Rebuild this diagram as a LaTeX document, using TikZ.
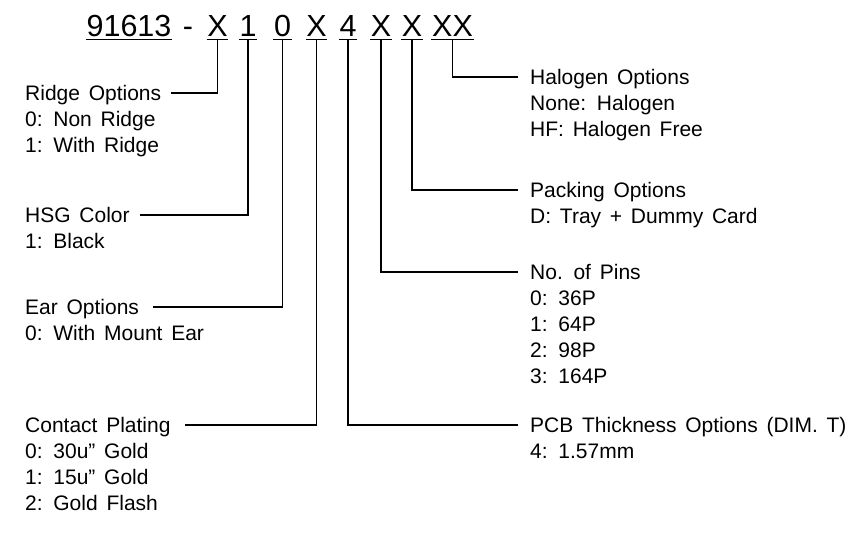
\documentclass[tikz,border=0pt]{standalone}
\usepackage{fontspec}
\setmainfont{Liberation Sans}[WordSpace=1.5]
\begin{document}
\begin{tikzpicture}[x=1pt,y=-1pt]
\tikzset{
  lbl/.style={font=\fontsize{21}{21}\selectfont, anchor=base west, inner sep=0pt},
  ttl/.style={lbl, text height=15pt, text depth=0pt},
  hdr/.style={font=\fontsize{30.5}{30.5}\selectfont, anchor=base, inner ysep=0pt, inner xsep=0.5pt, text height=22pt, text depth=3.5pt},
  conn/.style={line width=1.4pt},
}
\useasboundingbox (0,0) rectangle (865,533);
% header
\node[hdr] (pn) at (129,36) {91613};
\node[hdr, inner xsep=0pt, text depth=0pt] (dash) at (188,36) {-};
\node[hdr] (h1) at (217.5,36) {X};
\node[hdr] (h2) at (248,36) {1};
\node[hdr] (h3) at (282.5,36) {0};
\node[hdr] (h4) at (316.5,36) {X};
\node[hdr] (h5) at (348,36) {4};
\node[hdr] (h6) at (381,36) {X};
\node[hdr] (h7) at (412,36) {X};
\node[hdr] (h8) at (452.5,36) {XX};
\foreach \n in {pn,h1,h2,h3,h4,h5,h6,h7,h8}
  \draw[conn] (\n.south west) -- (\n.south east);
% left labels
\node[ttl] (ridge) at (25,100.5) {Ridge Options};
\node[lbl] (ridge0) at (25,126.5) {0: Non Ridge};
\node[lbl] (ridge1) at (25,152.5) {1: With Ridge};
\node[ttl] (hsg) at (25,222.5) {HSG Color};
\node[lbl] (hsg1) at (25,248.5) {1: Black};
\node[ttl] (ear) at (25,314.5) {Ear Options};
\node[lbl] (ear0) at (25,340.5) {0: With Mount Ear};
\node[ttl] (plat) at (25,432.5) {Contact Plating};
\node[lbl] (plat0) at (25,458.5) {0: 30u" Gold};
\node[lbl] (plat1) at (25,484.5) {1: 15u" Gold};
\node[lbl] (plat2) at (25,510.5) {2: Gold Flash};
% right labels
\node[ttl] (halo) at (530,84.5) {Halogen Options};
\node[lbl] (halo0) at (530,110.5) {None: Halogen};
\node[lbl] (halo1) at (530,136.5) {HF: Halogen Free};
\node[ttl] (pack) at (530,197.5) {Packing Options};
\node[lbl] (pack0) at (530,223.5) {D: Tray + Dummy Card};
\node[ttl] (pins) at (530,279.5) {No. of Pins};
\node[lbl] (pins0) at (530,305.5) {0: 36P};
\node[lbl] (pins1) at (530,331.5) {1: 64P};
\node[lbl] (pins2) at (530,357.5) {2: 98P};
\node[lbl] (pins3) at (530,383.5) {3: 164P};
\node[ttl] (pcb) at (530,432.5) {PCB Thickness Options (DIM. T)};
\node[lbl] (pcb4) at (530,458.5) {4: 1.57mm};
% connectors
\draw[conn] (h1.south) |- ([xshift=10pt]ridge.east);
\draw[conn] (h2.south) |- ([xshift=10pt]hsg.east);
\draw[conn] (h3.south) |- ([xshift=14pt]ear.east);
\draw[conn] (h4.south) |- ([xshift=14pt]plat.east);
\draw[conn] (h5.south) |- ([xshift=-12pt]pcb.west);
\draw[conn] (h6.south) |- ([xshift=-12pt]pins.west);
\draw[conn] (h7.south) |- ([xshift=-12pt]pack.west);
\draw[conn] (h8.south) |- ([xshift=-12pt]halo.west);
\end{tikzpicture}
\end{document}
